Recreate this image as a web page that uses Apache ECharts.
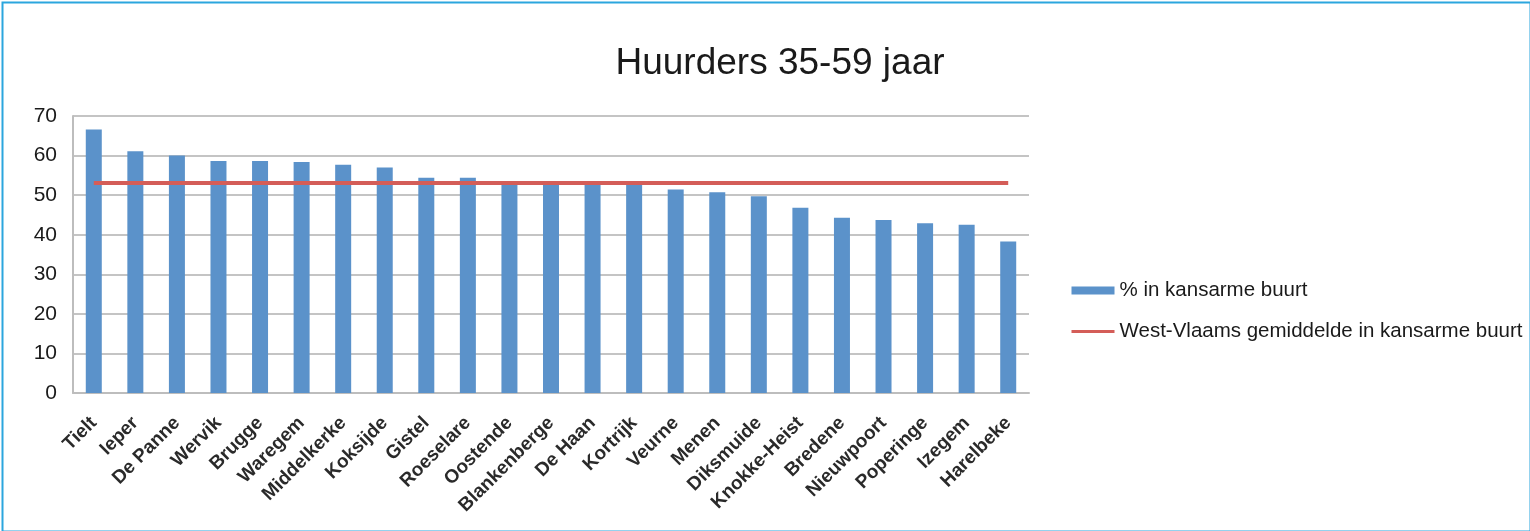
<!DOCTYPE html>
<html>
<head>
<meta charset="utf-8">
<script src="https://cdn.jsdelivr.net/npm/echarts@6/dist/echarts.min.js"></script>
<style>
  html, body { margin: 0; padding: 0; background: #fff; }
  #chart { width: 1530px; height: 531px; }
</style>
</head>
<body>
<div id="chart"></div>
<script>
// Municipalities, sorted by share of tenants (35-59 y) living in a deprived neighbourhood
const gemeenten = ['Tielt', 'Ieper', 'De Panne', 'Wervik', 'Brugge', 'Waregem', 'Middelkerke',
  'Koksijde', 'Gistel', 'Roeselare', 'Oostende', 'Blankenberge', 'De Haan', 'Kortrijk',
  'Veurne', 'Menen', 'Diksmuide', 'Knokke-Heist', 'Bredene', 'Nieuwpoort', 'Poperinge',
  'Izegem', 'Harelbeke'];

// % in kansarme buurt
const percentKansarm = [66.6, 61.1, 60.0, 58.6, 58.6, 58.4, 57.7, 57.0, 54.4, 54.4, 53.0,
  52.9, 52.9, 52.8, 51.4, 50.7, 49.7, 46.8, 44.3, 43.7, 42.9, 42.5, 38.3];

// West-Flemish average, one value per municipality
const gemiddeldeWV = [53.1, 53.1, 53.1, 53.1, 53.1, 53.1, 53.1, 53.1, 53.1, 53.1, 53.1, 53.1,
  53.1, 53.1, 53.1, 53.1, 53.1, 53.1, 53.1, 53.1, 53.1, 53.1, 53.1];

const yTicks = { min: 0, max: 70, interval: 10 };

const chart = echarts.init(document.getElementById('chart'));
chart.setOption({
  backgroundColor: '#ffffff',
  animation: false,
  graphic: [{
    type: 'rect',
    left: 0, top: 0,
    shape: { x: 1, y: 1, width: 1528, height: 529 },
    style: { fill: 'none', stroke: '#2ba6de', lineWidth: 2 },
    silent: true
  }],
  title: {
    text: 'Huurders 35-59 jaar',
    left: 775,
    textAlign: 'center',
    top: 40,
    textStyle: {
      fontFamily: 'Liberation Sans',
      fontSize: 37,
      fontWeight: 'normal',
      color: '#1a1a1a'
    }
  },
  legend: {
    orient: 'vertical',
    left: 1070,
    top: 280,
    padding: 0,
    itemWidth: 43,
    itemHeight: 8,
    itemGap: 20,
    textStyle: {
      fontFamily: 'Liberation Sans',
      fontSize: 20.5,
      color: '#1a1a1a'
    },
    data: [
      { name: '% in kansarme buurt', icon: 'rect' },
      {
        name: 'West-Vlaams gemiddelde in kansarme buurt',
        icon: 'inherit',
        itemStyle: { opacity: 0 },
        lineStyle: { width: 3 }
      }
    ]
  },
  grid: { left: 73, right: 501, top: 116, bottom: 138 },
  xAxis: {
    type: 'category',
    data: gemeenten,
    boundaryGap: true,
    axisLine: { show: true, lineStyle: { color: '#bdbdbd', width: 2 } },
    axisTick: { show: false },
    axisLabel: {
      rotate: 45,
      interval: 0,
      margin: 27,
      fontFamily: 'Liberation Sans',
      fontSize: 19,
      fontWeight: 'bold',
      color: '#2a2a2a'
    }
  },
  yAxis: {
    type: 'value',
    min: yTicks.min,
    max: yTicks.max,
    interval: yTicks.interval,
    axisLine: { show: true, lineStyle: { color: '#bdbdbd', width: 2 } },
    axisTick: { show: false },
    splitLine: { show: true, lineStyle: { color: '#c4c4c4', width: 2 } },
    axisLabel: {
      margin: 16,
      fontFamily: 'Liberation Sans',
      fontSize: 21,
      color: '#1a1a1a'
    }
  },
  series: [
    {
      name: '% in kansarme buurt',
      type: 'bar',
      data: percentKansarm,
      barWidth: 16,
      itemStyle: { color: '#5b92ca' }
    },
    {
      name: 'West-Vlaams gemiddelde in kansarme buurt',
      type: 'line',
      data: gemiddeldeWV,
      symbol: 'none',
      lineStyle: { color: '#d45d58', width: 4 },
      itemStyle: { color: '#d45d58' }
    }
  ]
});
</script>
</body>
</html>
